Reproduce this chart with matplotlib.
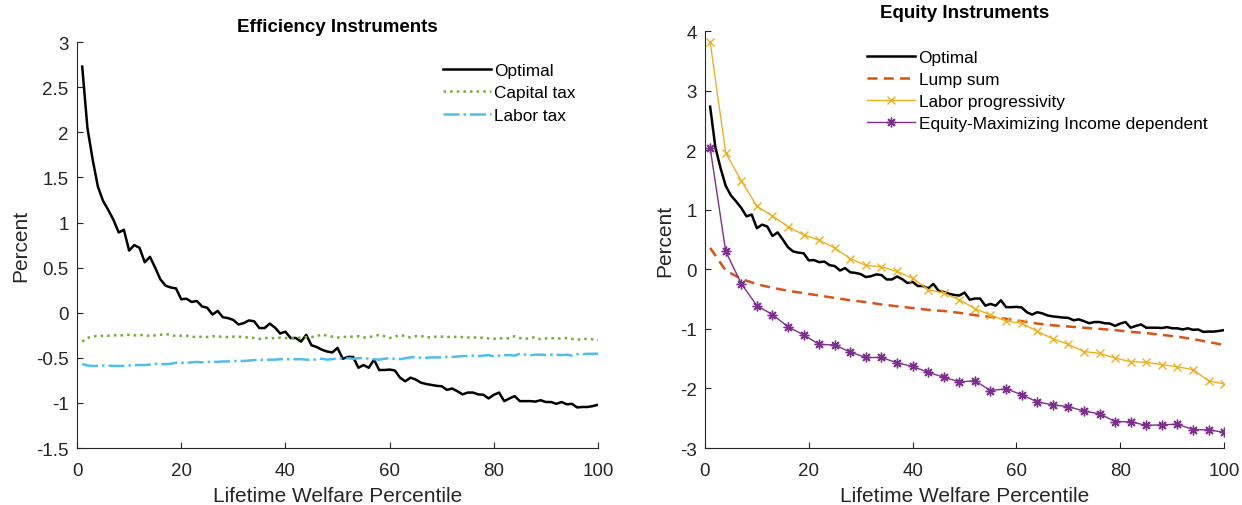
import numpy as np
import matplotlib
matplotlib.use("Agg")
import matplotlib.pyplot as plt

plt.rcParams["font.family"] = ["Liberation Sans", "DejaVu Sans"]

# percentiles
pct = np.arange(1, 101)
pct_coarse = np.arange(1, 101, 3)

optimal = [
    2.73, 2.05, 1.70, 1.40, 1.24, 1.14, 1.03, 0.89, 0.92, 0.69,
    0.75, 0.72, 0.56, 0.62, 0.50, 0.37, 0.30, 0.28, 0.27, 0.15,
    0.155, 0.12, 0.13, 0.07, 0.055, -0.02, 0.02, -0.05, -0.06, -0.08,
    -0.13, -0.115, -0.085, -0.095, -0.17, -0.17, -0.12, -0.165, -0.23, -0.21,
    -0.28, -0.28, -0.32, -0.245, -0.36, -0.38, -0.41, -0.43, -0.44, -0.39,
    -0.51, -0.49, -0.49, -0.61, -0.58, -0.61, -0.52, -0.635, -0.635, -0.63,
    -0.64, -0.72, -0.76, -0.72, -0.74, -0.775, -0.79, -0.80, -0.81, -0.815,
    -0.855, -0.84, -0.87, -0.905, -0.885, -0.885, -0.905, -0.91, -0.95, -0.91,
    -0.885, -0.98, -0.95, -0.925, -0.98, -0.98, -0.98, -0.985, -0.97, -0.99,
    -0.99, -1.01, -0.99, -1.015, -1.01, -1.05, -1.045, -1.045, -1.035, -1.02,
]

capital_tax = [
    -0.32, -0.28, -0.26, -0.26, -0.255, -0.255, -0.25, -0.25, -0.25, -0.245,
    -0.25, -0.25, -0.245, -0.26, -0.25, -0.245, -0.235, -0.245, -0.26, -0.255,
    -0.255, -0.265, -0.27, -0.265, -0.27, -0.26, -0.265, -0.265, -0.27, -0.265,
    -0.265, -0.27, -0.275, -0.28, -0.29, -0.28, -0.28, -0.285, -0.275, -0.28,
    -0.285, -0.28, -0.275, -0.27, -0.27, -0.26, -0.24, -0.255, -0.265, -0.275,
    -0.27, -0.265, -0.265, -0.26, -0.275, -0.27, -0.26, -0.245, -0.26, -0.28,
    -0.265, -0.245, -0.26, -0.275, -0.26, -0.255, -0.275, -0.27, -0.265, -0.265,
    -0.27, -0.265, -0.27, -0.27, -0.275, -0.27, -0.28, -0.275, -0.285, -0.29,
    -0.28, -0.29, -0.28, -0.26, -0.28, -0.29, -0.28, -0.27, -0.295, -0.285,
    -0.28, -0.285, -0.285, -0.28, -0.29, -0.30, -0.29, -0.29, -0.295, -0.30,
]

labor_tax = [
    -0.57, -0.585, -0.59, -0.59, -0.585, -0.585, -0.59, -0.59, -0.59, -0.585,
    -0.58, -0.58, -0.58, -0.575, -0.565, -0.57, -0.57, -0.565, -0.555, -0.555,
    -0.555, -0.55, -0.545, -0.55, -0.545, -0.545, -0.545, -0.54, -0.54, -0.535,
    -0.535, -0.535, -0.53, -0.525, -0.52, -0.525, -0.52, -0.52, -0.515, -0.515,
    -0.515, -0.515, -0.515, -0.52, -0.525, -0.515, -0.51, -0.52, -0.515, -0.505,
    -0.51, -0.505, -0.51, -0.505, -0.50, -0.51, -0.515, -0.52, -0.51, -0.505,
    -0.51, -0.515, -0.505, -0.495, -0.49, -0.50, -0.50, -0.495, -0.495, -0.495,
    -0.49, -0.49, -0.485, -0.48, -0.48, -0.475, -0.48, -0.475, -0.47, -0.485,
    -0.475, -0.47, -0.47, -0.475, -0.455, -0.465, -0.47, -0.465, -0.465, -0.47,
    -0.465, -0.465, -0.47, -0.465, -0.475, -0.46, -0.46, -0.455, -0.455, -0.455,
]

lump_sum = [
    0.36, -0.02, -0.16, -0.25, -0.31, -0.36, -0.40, -0.44, -0.48, -0.52,
    -0.55, -0.59, -0.62, -0.65, -0.68, -0.70, -0.73, -0.77, -0.80, -0.83,
    -0.87, -0.91, -0.94, -0.96, -0.98, -1.00, -1.02, -1.05, -1.07, -1.10,
    -1.13, -1.17, -1.22, -1.27,
]

labor_prog = [
    3.82, 1.95, 1.49, 1.06, 0.895, 0.717, 0.58, 0.49, 0.357, 0.18,
    0.065, 0.043, -0.035, -0.15, -0.34, -0.40, -0.51, -0.66, -0.765, -0.87,
    -0.905, -1.04, -1.165, -1.26, -1.38, -1.41, -1.49, -1.55, -1.56, -1.60,
    -1.635, -1.685, -1.87, -1.925,
]

equity_max = [
    2.04, 0.30, -0.24, -0.61, -0.76, -0.965, -1.10, -1.26, -1.27, -1.39,
    -1.48, -1.48, -1.57, -1.63, -1.73, -1.81, -1.89, -1.87, -2.035, -2.005,
    -2.105, -2.225, -2.275, -2.305, -2.38, -2.425, -2.555, -2.56, -2.62, -2.61,
    -2.60, -2.69, -2.695, -2.735,
]

# matlab default colours
c_orange = (0.850, 0.325, 0.098)
c_yellow = (0.929, 0.694, 0.125)
c_purple = (0.494, 0.184, 0.556)
c_green = (0.466, 0.674, 0.188)
c_blue = (0.301, 0.745, 0.933)
axis_col = "#262626"

fig = plt.figure(figsize=(12.42, 5.06), dpi=100)
ax1 = fig.add_axes([0.062, 0.1126, 0.4195, 0.802])
ax2 = fig.add_axes([0.5676, 0.1126, 0.418, 0.824])


def style_axis(ax):
    for side in ["top", "right"]:
        ax.spines[side].set_visible(False)
    for side in ["left", "bottom"]:
        ax.spines[side].set_color(axis_col)
        ax.spines[side].set_linewidth(0.8)
    ax.tick_params(direction="in", length=4, width=0.8, colors=axis_col,
                   labelsize=13.5, pad=6)
    ax.tick_params(axis="x", pad=10)
    ax.set_xlim(0, 100)
    ax.set_xticks([0, 20, 40, 60, 80, 100])
    ax.set_xlabel("Lifetime Welfare Percentile", fontsize=15, color=axis_col,
                  labelpad=5)
    ax.set_ylabel("Percent", fontsize=15, color=axis_col)


# left panel
ax1.plot(pct, optimal, color="black", lw=1.8, label="Optimal")
ax1.plot(pct, capital_tax, color=c_green, lw=1.8, ls=":", label="Capital tax")
ax1.plot(pct, labor_tax, color=c_blue, lw=1.8, ls="-.", label="Labor tax")
style_axis(ax1)
ax1.set_ylim(-1.5, 3)
ax1.set_yticks([-1.5, -1, -0.5, 0, 0.5, 1, 1.5, 2, 2.5, 3])
ax1.set_yticklabels(["-1.5", "-1", "-0.5", "0", "0.5", "1", "1.5", "2", "2.5", "3"])
ax1.set_title("Efficiency Instruments", fontsize=13.5, fontweight="bold", pad=8)
ax1.legend(loc="upper left", bbox_to_anchor=(0.702, 0.95), frameon=False,
           fontsize=12.4, handlelength=2.8, handletextpad=0.2,
           labelspacing=0.45, borderpad=0, borderaxespad=0)

# right panel
ax2.plot(pct, optimal, color="black", lw=1.8, label="Optimal")
ax2.plot(pct_coarse, lump_sum, color=c_orange, lw=1.8, ls=(0, (4, 2.5)),
         label="Lump sum")
ax2.plot(pct_coarse, labor_prog, color=c_yellow, lw=1.0, marker="x",
         ms=6, mew=1.0, label="Labor progressivity")
ax2.plot(pct_coarse, equity_max, color=c_purple, lw=1.0, marker=(8, 2, 0),
         ms=7, mew=1.0, label="Equity-Maximizing Income dependent")
style_axis(ax2)
ax2.set_ylim(-3, 4)
ax2.set_yticks([-3, -2, -1, 0, 1, 2, 3, 4])
ax2.set_yticklabels(["-3", "-2", "-1", "0", "1", "2", "3", "4"])
ax2.set_title("Equity Instruments", fontsize=13.5, fontweight="bold", pad=10)
ax2.legend(loc="upper left", bbox_to_anchor=(0.312, 0.955), frameon=False,
           fontsize=12.4, handlelength=2.8, handletextpad=0.2,
           labelspacing=0.4, borderpad=0, borderaxespad=0)

fig.savefig("out.png", dpi=100)
